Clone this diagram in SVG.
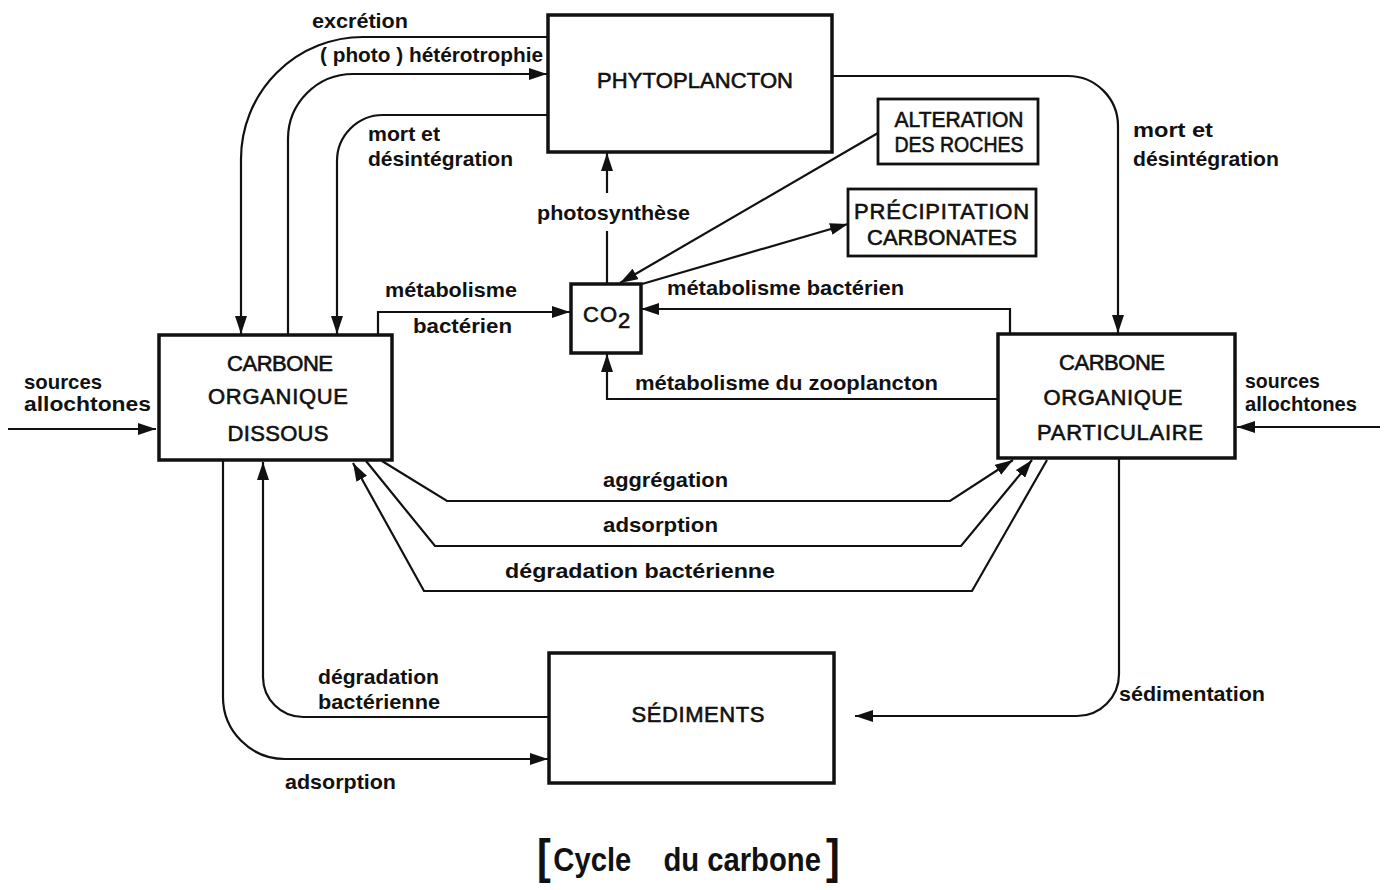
<svg xmlns="http://www.w3.org/2000/svg" width="1386" height="890" viewBox="0 0 1386 890">
<defs>
<marker id="arr" viewBox="0 0 18 12" refX="18" refY="6" markerWidth="18" markerHeight="12" markerUnits="userSpaceOnUse" orient="auto"><path d="M0,0 L18,6 L0,12 z" fill="#111"/></marker>
<style>
.box{fill:#fff;stroke:#111;stroke-width:3.5}
.sbox{fill:#fff;stroke:#111;stroke-width:2.8}
.c{fill:none;stroke:#111;stroke-width:2.2}
.a{marker-end:url(#arr)}
.lb{font-family:"Liberation Sans",Arial,sans-serif;font-weight:bold;font-size:21px;fill:#111}
.bx{font-family:"Liberation Sans",Arial,sans-serif;font-size:22px;fill:#111;stroke:#111;stroke-width:0.6;text-anchor:middle}
.cap{font-family:"Liberation Sans",Arial,sans-serif;font-weight:bold;font-size:34px;fill:#111}
</style>
</defs>
<rect width="1386" height="890" fill="#fff"/>

<g id="connectors">
<path class="c a" d="M548,37 H363 A122,122 0 0 0 241,159 V334"/>
<path class="c a" d="M288,335 V139 A65,65 0 0 1 353,74 H547"/>
<path class="c a" d="M548,115 H383 A46,46 0 0 0 337,161 V334"/>
<path class="c a" d="M832,76 H1068 A50,50 0 0 1 1118,126 V333"/>
<path class="c a" d="M378,335 V312 H570"/>
<path class="c" d="M607,283 V231"/>
<path class="c a" d="M607,193 V153"/>
<path class="c a" d="M878,133 L620,283"/>
<path class="c a" d="M642,284 L848,224"/>
<path class="c a" d="M1010,335 V309 H641"/>
<path class="c a" d="M998,399 H607 V354"/>
<path class="c a" d="M382,461 L447,501 H950 L1013,460"/>
<path class="c a" d="M366,461 L435,546 H961 L1032,460"/>
<path class="c a" d="M1047,460 L972,591 H424 L353,463"/>
<path class="c a" d="M549,717 H303 A40,40 0 0 1 263,677 V462"/>
<path class="c a" d="M223,461 V697 A62,62 0 0 0 285,759 H548"/>
<path class="c a" d="M1119,459 V674 A42,42 0 0 1 1077,716 H855"/>
<path class="c a" d="M8,429 H156"/>
<path class="c a" d="M1380,427 H1237"/>

<text class="lb" x="312" y="28" textLength="96" lengthAdjust="spacingAndGlyphs">excrétion</text>
<text class="lb" x="320" y="62" textLength="223" lengthAdjust="spacingAndGlyphs">( photo ) hétérotrophie</text>
<text class="lb" x="368" y="141" textLength="72" lengthAdjust="spacingAndGlyphs">mort et</text>
<text class="lb" x="368" y="166" textLength="145" lengthAdjust="spacingAndGlyphs">désintégration</text>
<text class="lb" x="537" y="220" textLength="153" lengthAdjust="spacingAndGlyphs">photosynthèse</text>
<text class="lb" x="1133" y="137" textLength="80" lengthAdjust="spacingAndGlyphs">mort et</text>
<text class="lb" x="1133" y="166" textLength="146" lengthAdjust="spacingAndGlyphs">désintégration</text>
<text class="lb" x="385" y="297" textLength="132" lengthAdjust="spacingAndGlyphs">métabolisme</text>
<text class="lb" x="413" y="333" textLength="99" lengthAdjust="spacingAndGlyphs">bactérien</text>
<text class="lb" x="667" y="295" textLength="237" lengthAdjust="spacingAndGlyphs">métabolisme  bactérien</text>
<text class="lb" x="635" y="390" textLength="303" lengthAdjust="spacingAndGlyphs">métabolisme du zooplancton</text>
<text class="lb" x="24" y="389" textLength="78" lengthAdjust="spacingAndGlyphs">sources</text>
<text class="lb" x="24" y="411" textLength="127" lengthAdjust="spacingAndGlyphs">allochtones</text>
<text class="lb" x="1245" y="388" textLength="75" lengthAdjust="spacingAndGlyphs">sources</text>
<text class="lb" x="1245" y="411" textLength="112" lengthAdjust="spacingAndGlyphs">allochtones</text>
<text class="lb" x="603" y="487" textLength="125" lengthAdjust="spacingAndGlyphs">aggrégation</text>
<text class="lb" x="603" y="532" textLength="115" lengthAdjust="spacingAndGlyphs">adsorption</text>
<text class="lb" x="505" y="578" textLength="270" lengthAdjust="spacingAndGlyphs">dégradation  bactérienne</text>
<text class="lb" x="318" y="684" textLength="121" lengthAdjust="spacingAndGlyphs">dégradation</text>
<text class="lb" x="318" y="709" textLength="122" lengthAdjust="spacingAndGlyphs">bactérienne</text>
<text class="lb" x="285" y="789" textLength="111" lengthAdjust="spacingAndGlyphs">adsorption</text>
<text class="lb" x="1119" y="701" textLength="146" lengthAdjust="spacingAndGlyphs">sédimentation</text>
</g>

<g id="phytoplancton">
<rect class="box" x="548" y="15" width="284" height="137"/>
<text class="bx" x="695" y="88" textLength="196">PHYTOPLANCTON</text>
</g>

<g id="alteration">
<rect class="sbox" x="878" y="99" width="160" height="65"/>
<text class="bx" x="959" y="127" font-size="20" textLength="129" lengthAdjust="spacingAndGlyphs">ALTERATION</text>
<text class="bx" x="959" y="152" font-size="20" textLength="129" lengthAdjust="spacingAndGlyphs">DES ROCHES</text>
</g>

<g id="precipitation">
<rect class="sbox" x="848" y="189" width="188" height="67"/>
<text class="bx" font-size="18"><tspan x="942" y="219" letter-spacing="0.8">PRÉCIPITATION</tspan><tspan x="942" y="245">CARBONATES</tspan></text>
</g>

<g id="co2">
<rect class="box" x="571" y="284" width="70" height="69"/>
<text class="bx" x="583" y="322" font-size="21" style="text-anchor:start" textLength="34">CO</text>
<text class="bx" x="618" y="328" font-size="14" style="text-anchor:start">2</text>
</g>

<g id="cod">
<rect class="box" x="159" y="335" width="233" height="125"/>
<text class="bx" x="280" y="371" textLength="106">CARBONE</text>
<text class="bx" x="278" y="404" textLength="140">ORGANIQUE</text>
<text class="bx" x="278" y="441" textLength="101">DISSOUS</text>
</g>

<g id="cop">
<rect class="box" x="998" y="334" width="237" height="124"/>
<text class="bx" x="1112" y="370" textLength="106">CARBONE</text>
<text class="bx" x="1113" y="405" textLength="139">ORGANIQUE</text>
<text class="bx" x="1120" y="440" textLength="166">PARTICULAIRE</text>
</g>

<g id="sediments">
<rect class="box" x="549" y="653" width="285" height="130"/>
<text class="bx" x="698" y="722" font-size="20" textLength="133">SÉDIMENTS</text>
</g>

<g id="caption">
<text class="cap" transform="translate(537,873) scale(0.86,1)"><tspan x="0" y="0" font-size="48">[</tspan><tspan x="19" y="-2">Cycle</tspan><tspan x="147" y="-2">du carbone</tspan><tspan x="336" y="0" font-size="48">]</tspan></text>
</g>
</svg>
